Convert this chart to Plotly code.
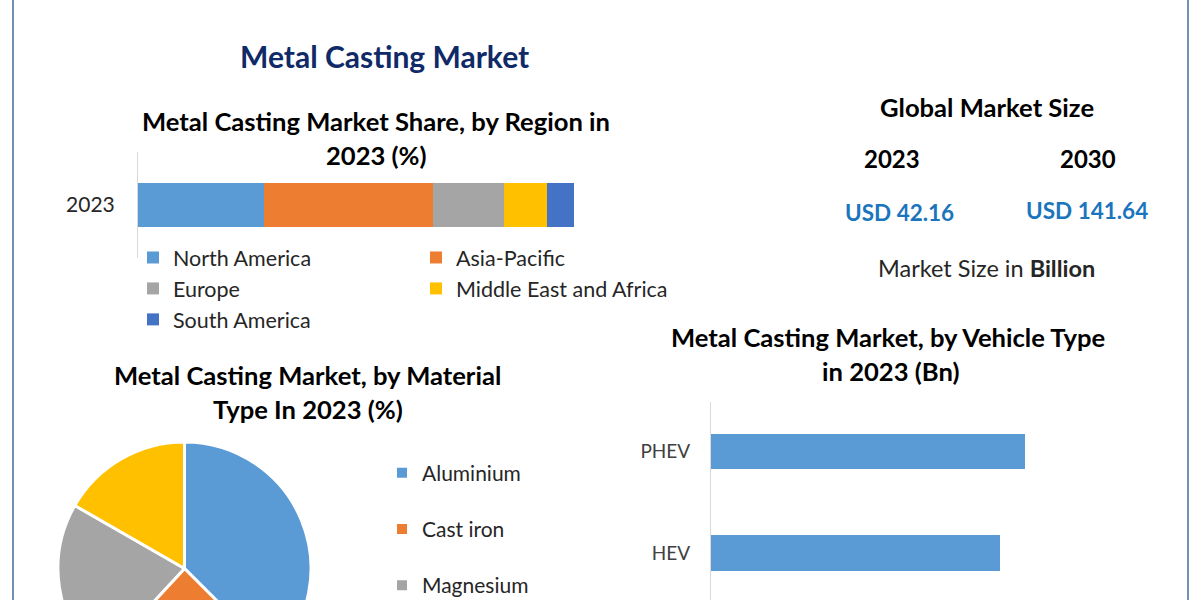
import plotly.graph_objects as go

# canvas is taller than the window, the pie and the vehicle chart run off the bottom
W = 1200
H = 700

region_names = ["North America", "Asia-Pacific", "Europe", "Middle East and Africa", "South America"]
region_share = [28.8, 38.9, 16.2, 9.8, 6.3]
region_colors = ["#5B9BD5", "#ED7D31", "#A5A5A5", "#FFC000", "#4472C4"]
region_year = ["2023"]

material_names = ["Aluminium", "Cast iron", "Magnesium", "Others"]
material_share = [37.5, 24.4, 21.4, 16.7]
material_colors = ["#5B9BD5", "#ED7D31", "#A5A5A5", "#FFC000"]

vehicle_types = ["HEV", "PHEV"]
vehicle_size = [14.45, 15.7]

FONT = "Lato"
GREY = "#D9D9D9"


def fx(p):
    return p / W


def fy(p):
    return 1 - p / H


def label(fig, text, x, y, size, color="#000000", bold=False):
    if bold:
        text = "<b>" + text + "</b>"
    fig.add_annotation(text=text, x=fx(x), y=fy(y), xref="paper", yref="paper",
                       showarrow=False, xanchor="center", yanchor="middle",
                       font=dict(family=FONT, size=size, color=color))


fig = go.Figure()

# stacked region bar, two columns of legend
for i, name in enumerate(region_names):
    fig.add_trace(go.Bar(x=[region_share[i]], y=region_year, name=name, orientation="h",
                         width=0.406, marker=dict(color=region_colors[i], line=dict(width=0)),
                         legend="legend" if i % 2 == 0 else "legend2",
                         xaxis="x", yaxis="y", hoverinfo="x+name"))

# vehicle type bars
fig.add_trace(go.Bar(x=vehicle_size, y=vehicle_types, orientation="h", width=0.35,
                     marker=dict(color="#5B9BD5", line=dict(width=0)), showlegend=False,
                     xaxis="x2", yaxis="y2"))

fig.add_trace(go.Pie(labels=material_names, values=material_share, sort=False, direction="clockwise",
                     rotation=0, textinfo="none", showlegend=False,
                     marker=dict(colors=material_colors, line=dict(color="white", width=3)),
                     domain=dict(x=[fx(58), fx(311)], y=[fy(695), fy(442)])))

# the pie legend rows are far apart, so it gets its own entries
# only the first three fit in the window, same as the reference
for name, color in zip(material_names[:3], material_colors[:3]):
    fig.add_trace(go.Scatter(x=[None], y=[None], mode="markers", name=name, legend="legend3",
                             legendgroup=name, xaxis="x2", yaxis="y2",
                             marker=dict(symbol="square", size=10, color=color)))

legend_font = dict(family=FONT, size=21.5, color="#262626")
fig.update_layout(
    width=W, height=H,
    margin=dict(l=0, r=0, t=0, b=0, pad=0),
    paper_bgcolor="white", plot_bgcolor="white",
    barmode="stack",
    xaxis=dict(domain=[fx(138), fx(574)], range=[0, 100], visible=False),
    yaxis=dict(domain=[fy(258), fy(152)], type="category", range=[-0.5, 0.5], showgrid=False,
               zeroline=False, showline=True, linecolor=GREY, linewidth=1, ticks="",
               ticklabelstandoff=18, tickfont=dict(family=FONT, size=21, color="#262626")),
    xaxis2=dict(domain=[fx(711), fx(1151)], range=[0, 22], visible=False, anchor="y2"),
    yaxis2=dict(domain=[fy(H), fy(402)], type="category", categoryarray=vehicle_types,
                categoryorder="array", range=[-1.45, 1.49], showgrid=False, zeroline=False,
                showline=True, linecolor=GREY, linewidth=1, ticks="", ticklabelstandoff=16,
                anchor="x2", tickfont=dict(family=FONT, size=19, color="#404040")),
    legend=dict(x=fx(133), y=fy(237), xanchor="left", yanchor="top", traceorder="normal",
                font=legend_font, bgcolor="rgba(0,0,0,0)", itemclick=False),
    legend2=dict(x=fx(416), y=fy(237), xanchor="left", yanchor="top", traceorder="normal",
                 font=legend_font, bgcolor="rgba(0,0,0,0)", itemclick=False),
    legend3=dict(x=fx(382), y=fy(452.5), xanchor="left", yanchor="top", traceorder="grouped",
                 tracegroupgap=26, font=dict(family=FONT, size=21, color="#262626"),
                 bgcolor="rgba(0,0,0,0)", itemclick=False),
    showlegend=True,
)

label(fig, "Metal Casting Market", 384, 56, 30, "#0F2A66", True)
label(fig, "Metal Casting Market Share, by Region in", 376, 121, 25.6, bold=True)
label(fig, "2023 (%)", 376, 155, 25.6, bold=True)
label(fig, "Global Market Size", 987, 107, 25.6, bold=True)
label(fig, "2023", 892, 159, 24, bold=True)
label(fig, "2030", 1088, 159, 24, bold=True)
label(fig, "USD 42.16", 899, 212, 22.5, "#1B75BC", True)
label(fig, "USD 141.64", 1087, 210, 22.5, "#1B75BC", True)
label(fig, "Market Size in <b>Billion</b>", 986, 268, 23.5, "#262626")
label(fig, "Metal Casting Market, by Vehicle Type", 888, 337, 25.6, bold=True)
label(fig, "in 2023 (Bn)", 890, 371, 25.6, bold=True)
label(fig, "Metal Casting Market, by Material", 307, 375, 25.6, bold=True)
label(fig, "Type In 2023 (%)", 308, 409, 25.6, bold=True)

# frame lines at both sides
for x in (13, 1188):
    fig.add_shape(type="line", xref="paper", yref="paper", x0=fx(x), x1=fx(x), y0=0, y1=1,
                  line=dict(color="#3F6E96", width=1.5))

fig.write_html("out.html", config=dict(displayModeBar=False),
               post_script="document.body.style.margin='0';document.body.style.overflow='hidden';")
